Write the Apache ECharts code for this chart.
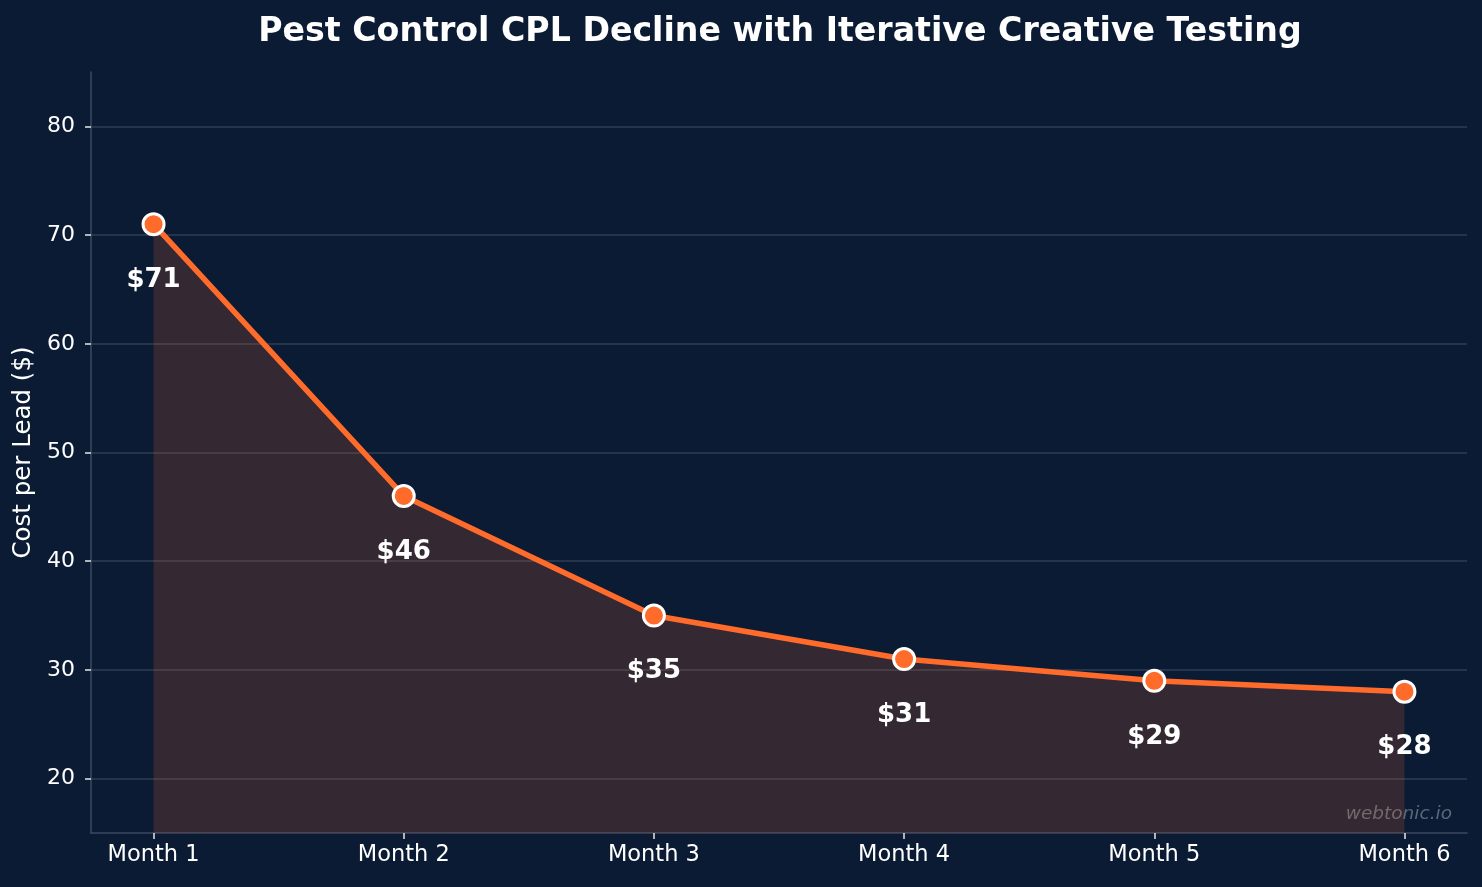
<!DOCTYPE html>
<html><head><meta charset="utf-8">
<script src="https://cdn.jsdelivr.net/npm/echarts@6/dist/echarts.min.js"></script>
<style>html,body{margin:0;padding:0;background:#0b1b34;}#c{width:1482px;height:887px;}</style>
</head><body><div id="c"></div>
<script>
const categories = ['Month 1','Month 2','Month 3','Month 4','Month 5','Month 6'];
const cplValues = [71, 46, 35, 31, 29, 28];
const yTicks = [20, 30, 40, 50, 60, 70, 80];

const chart = echarts.init(document.getElementById('c'));
const font = 'DejaVu Sans';
const data = cplValues.map((v, i) => [i, v]);
const xTickVals = categories.map((c, i) => i);
chart.setOption({
  backgroundColor: '#0b1b34',
  animation: false,
  title: {
    text: 'Pest Control CPL Decline with Iterative Creative Testing',
    left: 775, top: 11, textAlign: 'center',
    textStyle: {color: '#ffffff', fontFamily: font, fontWeight: 'bold', fontSize: 33.2}
  },
  grid: {left: 91, right: 15, top: 72, bottom: 54},
  xAxis: {
    type: 'value', min: -0.25, max: 5.25,
    axisLine: {show: true, onZero: false, lineStyle: {color: '#3b4a60', width: 1.5}},
    axisTick: {show: true, customValues: xTickVals, length: 6, lineStyle: {color: '#e6e6e6', width: 1.5}},
    axisLabel: {customValues: xTickVals, formatter: v => categories[Math.round(v)], color: '#ffffff', fontFamily: font, fontSize: 22.5, margin: 11},
    splitLine: {show: false}
  },
  yAxis: {
    type: 'value', min: 15, max: 85,
    name: 'Cost per Lead ($)', nameLocation: 'middle', nameGap: 53,
    nameTextStyle: {color: '#ffffff', fontFamily: font, fontSize: 24.5},
    axisLine: {show: true, onZero: false, lineStyle: {color: '#3b4a60', width: 1.5}},
    axisTick: {show: true, customValues: yTicks, length: 6, lineStyle: {color: '#e6e6e6', width: 1.5}},
    axisLabel: {customValues: yTicks, color: '#ffffff', fontFamily: font, fontSize: 22, margin: 16},
    splitLine: {show: true, lineStyle: {color: 'rgba(255,255,255,0.15)', width: 1.5}}
  },
  series: [{
    type: 'line', data: data,
    lineStyle: {color: '#ff6b2b', width: 5.5},
    areaStyle: {color: 'rgba(255,107,43,0.17)', opacity: 1, origin: 'start'},
    symbol: 'circle', symbolSize: 21,
    itemStyle: {color: '#ff6b2b', borderColor: '#ffffff', borderWidth: 3},
    z: 3,
    label: {show: true, position: 'inside', offset: [0, 56], formatter: p => '$' + p.value[1],
      color: '#ffffff', fontFamily: font, fontWeight: 'bold', fontSize: 26}
  }],
  graphic: [{
    type: 'text', right: 30, top: 805,
    style: {text: 'webtonic.io', fill: '#5b6779', font: 'italic 18.5px "DejaVu Sans"'}
  }]
});
</script></body></html>
